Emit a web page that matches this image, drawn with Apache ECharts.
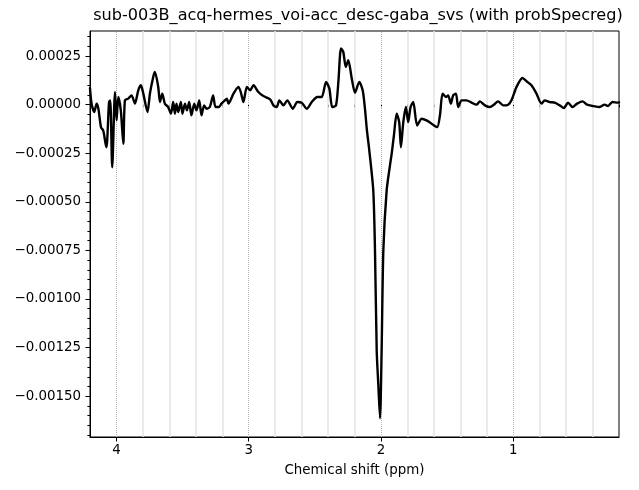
<!DOCTYPE html>
<html>
<head>
<meta charset="utf-8">
<script src="https://cdn.jsdelivr.net/npm/echarts@6/dist/echarts.min.js"></script>
<style>html,body{margin:0;padding:0;background:#fff}#c{width:639px;height:490px}</style>
</head>
<body>
<div id="c"></div>
<script>
// Chemical shift (ppm)
const ppm = [4.200,4.188,4.168,4.150,4.137,4.117,4.100,4.082,4.075,4.056,4.047,4.032,4.011,3.999,3.986,3.967,3.948,3.936,3.911,3.886,3.860,3.835,3.815,3.797,3.765,3.747,3.722,3.709,3.684,3.671,3.654,3.634,3.609,3.588,
3.571,3.558,3.546,3.533,3.513,3.501,3.482,3.467,3.450,3.433,3.412,3.395,3.374,3.357,3.337,3.319,3.294,3.269,3.251,3.226,3.206,3.180,
3.165,3.153,3.115,3.078,3.060,3.040,3.014,2.989,2.964,2.927,2.889,2.838,2.813,2.788,2.768,2.738,2.708,2.667,2.632,2.599,2.561,2.523,2.481,2.448,2.415,2.390,2.368,2.340,2.322,2.302,2.285,2.266,2.247,2.221,2.196,2.164,2.138,2.121,2.106,2.088,2.058,2.045,2.032,2.020,2.007,1.995,1.982,1.957,1.932,1.919,1.902,1.881,1.862,1.849,1.831,1.811,1.794,1.776,1.756,1.726,1.692,1.655,1.617,1.575,1.554,1.534,1.509,1.492,1.471,1.454,1.433,1.416,1.390,1.353,1.315,1.277,1.252,1.214,1.177,1.146,1.114,1.076,1.038,1.013,0.975,0.930,0.899,0.862,0.824,0.786,0.761,0.723,0.686,0.648,0.618,0.585,0.552,0.517,0.476,0.442,0.396,0.346,0.309,0.283,0.250,0.208,0.200];
// Signal (a.u.)
const signal = [8.42e-5,5.2e-6,-3.82e-5,5.2e-6,-1.91e-5,-1.157e-4,-1.327e-4,-2.014e-4,-2.19e-4,1.34e-5,2.22e-5,-3.223e-4,6.51e-5,-8.11e-5,3.93e-5,-2.94e-5,-2.014e-4,2.22e-5,3.1e-5,4.8e-5,5.2e-6,7.39e-5,9.97e-5,5.68e-5,-3.82e-5,5.68e-5,1.426e-4,1.684e-4,9.09e-5,1.34e-5,5.68e-5,5.2e-6,-1.24e-5,-4.65e-5,
1.34e-5,-4.65e-5,5.2e-6,-3.82e-5,1.34e-5,-4.65e-5,5.2e-6,-2.94e-5,1.34e-5,-5.53e-5,5.2e-6,-2.94e-5,2.22e-5,-5.53e-5,-3.6e-6,-2.07e-5,-1.24e-5,4.8e-5,-1.24e-5,-1.24e-5,5.2e-6,2.22e-5,
3.1e-5,5.2e-6,5.68e-5,9.09e-5,6.51e-5,1.34e-5,9.09e-5,7.39e-5,9.97e-5,6.51e-5,4.44e-5,2.74e-5,-3.6e-6,-1.24e-5,2.22e-5,-3.6e-6,2.22e-5,-2.07e-5,1.34e-5,1.03e-5,-2.07e-5,1.34e-5,3.93e-5,3.93e-5,1.167e-4,8.26e-5,-1.24e-5,-3.6e-6,1.167e-4,2.892e-4,2.717e-4,1.942e-4,2.288e-4,1.358e-4,6.1e-5,1.167e-4,7.39e-5,-2.07e-5,-1.327e-4,-2.36e-4,-4.426e-4,-7.525e-4,-1.269e-3,-1.4395e-3,-1.6135e-3,-1.269e-3,-7.525e-4,-4.426e-4,-3.135e-4,-2.531e-4,-1.586e-4,-4.65e-5,-8.99e-5,-2.19e-4,-8.99e-5,-1.24e-5,-8.99e-5,-1.24e-5,1.34e-5,-1.069e-4,-7.23e-5,-8.11e-5,-9.81e-5,-1.157e-4,-5.53e-5,5.68e-5,3.93e-5,4.8e-5,5.2e-6,4.8e-5,5.68e-5,-1.24e-5,2.22e-5,2.22e-5,1.03e-5,0,1.7e-5,-3.6e-6,-1.24e-5,0,1.7e-5,-3.6e-6,0,2.22e-5,9.09e-5,1.374e-4,1.203e-4,9.97e-5,5.68e-5,5.2e-6,2.22e-5,1.34e-5,1.03e-5,-3.6e-6,-1.76e-5,1.03e-5,-1.24e-5,5.2e-6,1.7e-5,0,-7.2e-6,-1.24e-5,0,-7.2e-6,1.34e-5,1.03e-5,1.2e-5];

const xMajorTicks = [1, 2, 3, 4];
const xMinorTicks = [0.2,0.4,0.6,0.8,1.0,1.2,1.4,1.6,1.8,2.0,2.2,2.4,2.6,2.8,3.0,3.2,3.4,3.6,3.8,4.0,4.2];
const xMinorGrid = [0.4,0.6,0.8,1.2,1.4,1.6,1.8,2.2,2.4,2.6,2.8,3.2,3.4,3.6,3.8];
const yMajorTicks = [-0.0015,-0.00125,-0.001,-0.00075,-0.0005,-0.00025,0,0.00025];
const yMinorTicks = [-0.0017,-0.00165,-0.0016,-0.00155,-0.0015,-0.00145,-0.0014,-0.00135,-0.0013,-0.00125,-0.0012,-0.00115,-0.0011,-0.00105,-0.001,-0.00095,-0.0009,-0.00085,-0.0008,-0.00075,-0.0007,-0.00065,-0.0006,-0.00055,-0.0005,-0.00045,-0.0004,-0.00035,-0.0003,-0.00025,-0.0002,-0.00015,-0.0001,-0.00005,0,0.00005,0.0001,0.00015,0.0002,0.00025,0.0003,0.00035];

const Y_MIN = -0.00171, Y_MAX = 0.000379, X_MIN = 0.2, X_MAX = 4.2;
const FONT = 'DejaVu Sans';
const pts = ppm.map((p, i) => [p, signal[i]]);

const chart = echarts.init(document.getElementById('c'), null, {renderer: 'canvas'});
const fmtY = v => v.toFixed(5).replace('-', '\u2212');
chart.setOption({
  animation: false,
  backgroundColor: '#fff',
  title: {
    text: 'sub-003B_acq-hermes_voi-acc_desc-gaba_svs (with probSpecreg)',
    left: 353, top: 3, textAlign: 'center',
    textStyle: {fontFamily: FONT, fontSize: 16.1, fontWeight: 'normal', color: '#000'}
  },
  grid: {left: 90, right: 20, top: 31, bottom: 53, show: true, borderColor: '#000', borderWidth: 1, backgroundColor: 'transparent'},
  xAxis: [{
    type: 'value', min: X_MIN, max: X_MAX, inverse: true,
    name: 'Chemical shift (ppm)', nameLocation: 'middle', nameGap: 27,
    nameTextStyle: {fontFamily: FONT, fontSize: 13.4, color: '#000'},
    axisLine: {show: true, onZero: false, lineStyle: {color: '#000', width: 1}},
    axisTick: {show: true, length: 4.5, lineStyle: {color: '#000'}, customValues: xMajorTicks},
    axisLabel: {show: true, margin: 7, fontFamily: FONT, fontSize: 13.4, color: '#000', customValues: xMajorTicks, formatter: v => String(Math.round(v))},
    splitLine: {show: false}
  }, {
    type: 'value', min: X_MIN, max: X_MAX, inverse: true, position: 'bottom',
    axisLine: {show: false},
    axisTick: {show: true, length: 2.6, lineStyle: {color: '#000'}, customValues: xMinorTicks},
    axisLabel: {show: false},
    splitLine: {show: false}
  }],
  yAxis: [{
    type: 'value', min: Y_MIN, max: Y_MAX,
    axisLine: {show: true, onZero: false, lineStyle: {color: '#000', width: 1}},
    axisTick: {show: true, length: 4.5, lineStyle: {color: '#000'}, customValues: yMajorTicks},
    axisLabel: {show: true, margin: 9, fontFamily: FONT, fontSize: 13.4, color: '#000', customValues: yMajorTicks, formatter: fmtY},
    splitLine: {show: false}
  }, {
    type: 'value', min: Y_MIN, max: Y_MAX, position: 'left',
    axisLine: {show: false},
    axisTick: {show: true, length: 2.6, lineStyle: {color: '#000'}, customValues: yMinorTicks},
    axisLabel: {show: false},
    splitLine: {show: false}
  }],
  series: [{
    type: 'line', z: 1, silent: true, data: pts, showSymbol: false,
    lineStyle: {opacity: 0, width: 0},
    markLine: {
      silent: true, symbol: 'none', animation: false, label: {show: false},
      data: xMinorGrid.map(v => ({xAxis: v, lineStyle: {color: '#e4e4e4', width: 1.5, type: 'solid'}}))
        .concat(xMajorTicks.map(v => ({xAxis: v, lineStyle: {color: '#b4b4b4', width: 1, type: [1, 1]}})))
    }
  }, {
    type: 'line', z: 5, data: pts, showSymbol: false, symbol: 'none', smooth: 0.25,
    lineStyle: {color: '#000', width: 2.4, join: 'round', cap: 'round'}
  }]
});
</script>
</body>
</html>
